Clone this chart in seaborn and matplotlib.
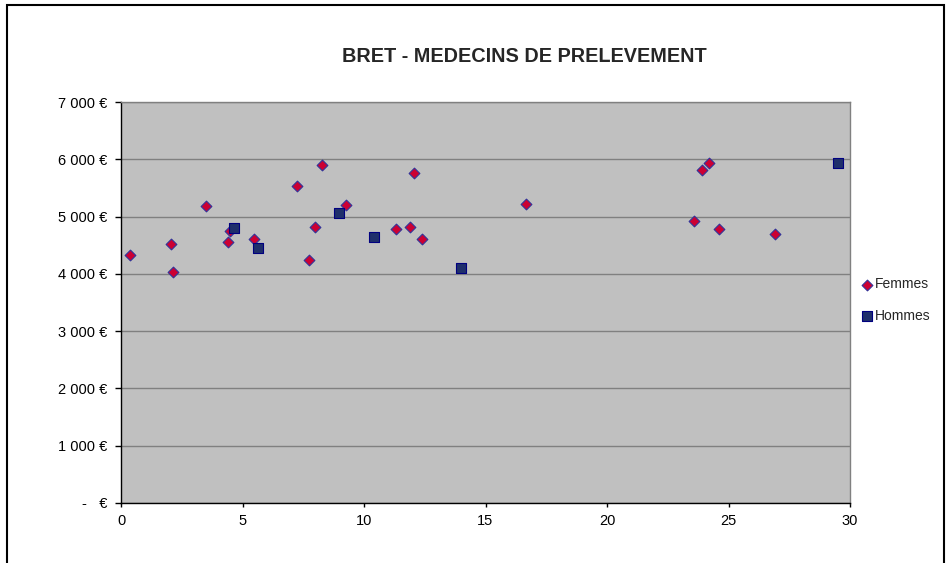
import pandas as pd
import seaborn as sns
import matplotlib.pyplot as plt
from matplotlib.patches import Rectangle
from matplotlib.ticker import FuncFormatter, MultipleLocator

# Data
femmes_x = [0.37, 2.06, 2.14, 3.5, 4.4, 4.49, 5.47, 7.24, 7.74, 7.98, 8.27, 9.26,
            11.32, 11.89, 12.06, 12.39, 16.67, 23.58, 23.9, 24.2, 24.6, 26.9]
femmes_y = [4330, 4525, 4030, 5190, 4560, 4740, 4615, 5540, 4250, 4810, 5905, 5210,
            4775, 4810, 5765, 4615, 5225, 4930, 5815, 5940, 4790, 4700]
hommes_x = [4.65, 5.64, 8.97, 10.41, 13.99, 29.5]
hommes_y = [4795, 4460, 5070, 4635, 4110, 5930]

TITLE = "BRET - MEDECINS DE PRELEVEMENT"


def euro_fmt(v, pos):
    if v == 0:
        return "-   €"
    return f"{int(v):,} €".replace(",", " ")


def main():
    df_f = pd.DataFrame({"x": femmes_x, "y": femmes_y})
    df_h = pd.DataFrame({"x": hommes_x, "y": hommes_y})

    sns.set_style("white")
    plt.rcParams["font.family"] = ["Liberation Sans", "DejaVu Sans"]

    fig = plt.figure(figsize=(9.52, 5.63), dpi=100)
    W, H = 952, 563
    ax = fig.add_axes([121 / W, (H - 503) / H, (850 - 121) / W, (503 - 102) / H])
    ax.set_facecolor("#C0C0C0")

    sns.scatterplot(data=df_f, x="x", y="y", ax=ax, marker="D", s=30,
                    color="#CC0033", edgecolor="#333399", linewidth=0.8,
                    label="Femmes", zorder=3)
    sns.scatterplot(data=df_h, x="x", y="y", ax=ax, marker="s", s=42,
                    color="#1F2F6B", edgecolor="#000080", linewidth=0.8,
                    label="Hommes", zorder=3)

    ax.set_xlim(0, 30)
    ax.set_ylim(0, 7000)
    ax.xaxis.set_major_locator(MultipleLocator(5))
    ax.yaxis.set_major_locator(MultipleLocator(1000))
    ax.yaxis.set_major_formatter(FuncFormatter(euro_fmt))
    ax.set_xlabel("")
    ax.set_ylabel("")

    ax.grid(axis="y", color="#808080", linewidth=1)
    ax.set_axisbelow(True)
    for side in ["top", "right"]:
        ax.spines[side].set_color("#808080")
        ax.spines[side].set_linewidth(1)
    for side in ["left", "bottom"]:
        ax.spines[side].set_color("black")
        ax.spines[side].set_linewidth(1)

    ax.tick_params(axis="y", direction="out", length=4, width=1, pad=6,
                   labelsize=10.5, left=True, colors="black")
    ax.tick_params(axis="x", direction="out", length=3, width=1, pad=5,
                   labelsize=10.5, bottom=True, colors="black")

    ax.legend(loc="center left", bbox_to_anchor=(858 / W, (H - 300) / H),
              bbox_transform=fig.transFigure, frameon=False, fontsize=10,
              handlelength=0.5, handletextpad=0.3, labelspacing=1.25,
              borderaxespad=0)

    fig.text(524 / W, (H - 56) / H, TITLE, ha="center", va="center",
             fontsize=14.3, fontweight="bold")

    # outer chart frame
    fig.patches.append(Rectangle((6.5 / W, -0.05), (944 - 6.5) / W, 0.05 + (H - 4.5) / H,
                                 transform=fig.transFigure, fill=False,
                                 edgecolor="black", linewidth=1.5, clip_on=False))

    fig.savefig("out.png", dpi=100)


if __name__ == "__main__":
    main()
